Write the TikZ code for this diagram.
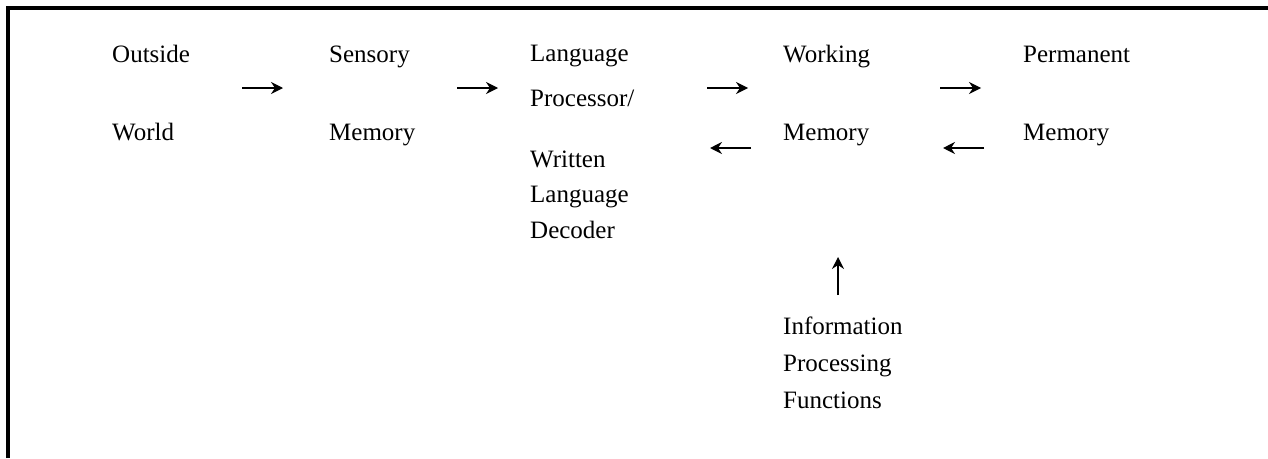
\documentclass[tikz,border=0pt]{standalone}
\usepackage{fontspec}
\setmainfont{Liberation Serif}
\usetikzlibrary{arrows.meta}
\begin{document}
\begin{tikzpicture}[x=1pt,y=-1pt,
  lbl/.style={anchor=base west,inner sep=0pt,align=left,font=\fontsize{25}{36}\selectfont},
  arr/.style={-{Stealth[length=12pt,width=12pt,inset=4pt]},line width=1.3pt}]
\useasboundingbox (0,0) rectangle (1268,458);
\draw[line width=3.5pt] (8,458) -- (8,8) -- (1268,8);
% top row
\node[lbl] (ow1) at (112,62) {Outside};
\node[lbl] (sm1) at (329,62) {Sensory};
\node[lbl,font=\fontsize{25}{45}\selectfont] (lp) at (530,106) {Language\\Processor/};
\node[lbl] (wm1) at (783,62) {Working};
\node[lbl] (pm1) at (1023,62) {Permanent};
% second row
\node[lbl] (ow2) at (112,140) {World};
\node[lbl] (sm2) at (329,140) {Memory};
\node[lbl,font=\fontsize{25}{35.5}\selectfont] (wld) at (530,238) {Written\\Language\\Decoder};
\node[lbl] (wm2) at (783,140) {Memory};
\node[lbl] (pm2) at (1023,140) {Memory};
% info processing
\node[lbl,font=\fontsize{25}{37}\selectfont] (ipf) at (783,408) {Information\\Processing\\Functions};
% arrows
\coordinate (a1s) at (242,88); \coordinate (a1e) at (283,88);
\coordinate (a2s) at (457,88); \coordinate (a2e) at (498,88);
\coordinate (a3s) at (707,88); \coordinate (a3e) at (748,88);
\coordinate (a4s) at (940,88); \coordinate (a4e) at (981,88);
\coordinate (b1s) at (751,148); \coordinate (b1e) at (710,148);
\coordinate (b2s) at (984,148); \coordinate (b2e) at (943,148);
\coordinate (us) at (838,295); \coordinate (ue) at (838,257);
\draw[arr] (a1s) -- (a1e);
\draw[arr] (a2s) -- (a2e);
\draw[arr] (a3s) -- (a3e);
\draw[arr] (a4s) -- (a4e);
\draw[arr] (b1s) -- (b1e);
\draw[arr] (b2s) -- (b2e);
\draw[arr] (us) -- (ue);
\end{tikzpicture}
\end{document}
